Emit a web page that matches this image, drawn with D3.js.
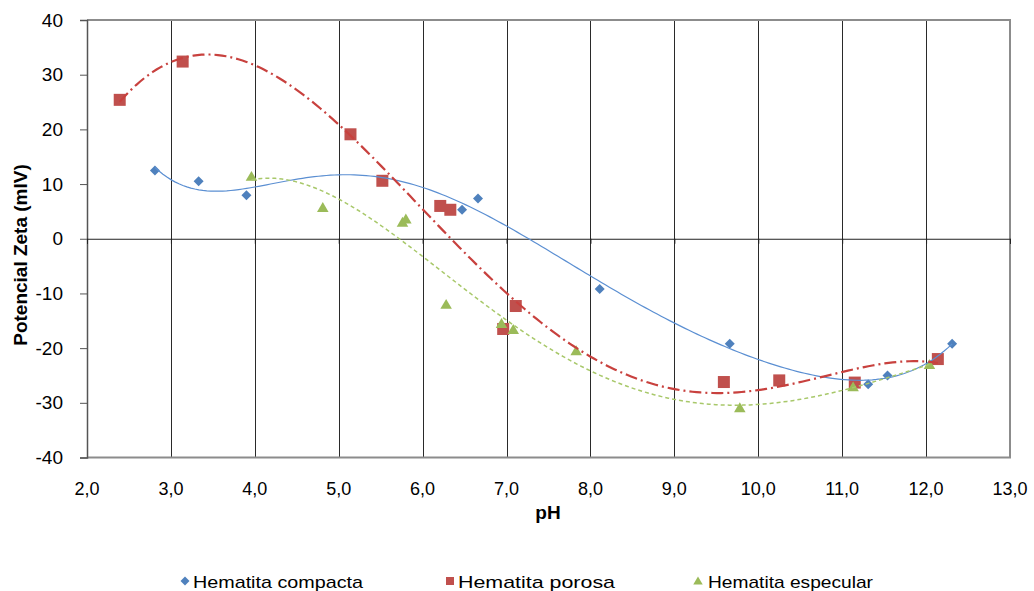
<!DOCTYPE html>
<html><head><meta charset="utf-8">
<script src="https://cdn.jsdelivr.net/npm/d3@7"></script>
<style>
body{margin:0;background:#fff;}
svg{font-family:"Liberation Sans",Arial,sans-serif;}
</style></head>
<body><svg id="c" width="1034" height="591"></svg>
<script>
// ---- data ----
const compactaX = [2.81, 3.33, 3.90, 6.47, 6.66, 8.11, 9.66, 11.31, 11.54, 12.31];
const compactaY = [12.5, 10.5, 7.95, 5.3, 7.35, -9.2, -19.2, -26.6, -25.0, -19.2];
const porosaX = [2.39, 3.14, 5.14, 5.52, 6.21, 6.33, 6.96, 7.11, 9.59, 10.25, 11.15, 12.14];
const porosaY = [25.4, 32.4, 19.1, 10.6, 6.0, 5.3, -16.5, -12.3, -26.2, -25.9, -26.3, -22.0];
const especularX = [3.96, 4.81, 5.76, 5.80, 6.28, 6.94, 7.08, 7.83, 9.78, 11.13, 12.04];
const especularY = [11.4, 5.7, 3.0, 3.6, -12.0, -15.5, -16.6, -20.5, -30.9, -27.1, -23.0];
const seriesNames = ["Hematita compacta", "Hematita porosa", "Hematita especular"];
const xTickValues = [2,3,4,5,6,7,8,9,10,11,12,13];
const xTickLabels = ["2,0","3,0","4,0","5,0","6,0","7,0","8,0","9,0","10,0","11,0","12,0","13,0"];
const yTickValues = [-40,-30,-20,-10,0,10,20,30,40];
const yTickLabels = ["-40","-30","-20","-10","0","10","20","30","40"];
const trendOrders = [6, 5, 5]; // polynomial trendline orders

// ---- layout ----
const svg = d3.select("#c");
const L = 87, R = 1010, T = 20, B = 457.5;
const x = d3.scaleLinear().domain([2,13]).range([L,R]);
const y = d3.scaleLinear().domain([-40,40]).range([B,T]);

// vertical gridlines
svg.append("g").selectAll("line").data(xTickValues.filter(v=>v>2 && v<13)).join("line")
  .attr("x1",d=>Math.round(x(d))+0.5).attr("x2",d=>Math.round(x(d))+0.5)
  .attr("y1",T).attr("y2",B).attr("stroke","#2a2a2a").attr("stroke-width",1);

// border (top/right/bottom)
svg.append("path").attr("d",`M${L},${T}H${R}V${B}H${L}`).attr("fill","none")
  .attr("stroke","#8c8c8c").attr("stroke-width",2);

// y axis
const yAxis = svg.append("g").attr("transform",`translate(${L},0)`)
  .call(d3.axisLeft(y).tickValues(yTickValues).tickSize(7).tickPadding(17)
    .tickFormat((d,i)=>yTickLabels[i]));
yAxis.select(".domain").attr("stroke","#555").attr("stroke-width",1.5);
yAxis.selectAll(".tick line").attr("stroke","#555");
yAxis.selectAll("text").attr("font-size","19px").attr("fill","#000")
  .attr("font-family","Liberation Sans, Arial, sans-serif");

// x axis at y=0
const xAxis = svg.append("g").attr("transform",`translate(0,${y(0)})`)
  .call(d3.axisBottom(x).tickValues(xTickValues).tickSize(5).tickFormat(""));
xAxis.select(".domain").attr("stroke","#222").attr("stroke-width",1);
xAxis.selectAll(".tick line").attr("stroke","#222");

// x tick labels at bottom
svg.append("g").selectAll("text").data(xTickValues).join("text")
  .attr("x",d=>x(d)).attr("y",495).attr("text-anchor","middle")
  .attr("font-size","18px").attr("fill","#000")
  .text((d,i)=>xTickLabels[i]);

// axis titles
svg.append("text").attr("x",548).attr("y",519).attr("text-anchor","middle")
  .attr("font-size","19px").attr("font-weight","bold").text("pH");
svg.append("text").attr("transform","translate(27,255) rotate(-90)").attr("text-anchor","middle")
  .attr("font-size","19px").attr("font-weight","bold").text("Potencial Zeta (mlV)");

// polynomial least squares (trendline)
function polyfit(xs, ys, deg){
  const m = d3.mean(xs);
  const n = deg+1;
  const A = Array.from({length:n},()=>new Array(n).fill(0));
  const b = new Array(n).fill(0);
  xs.forEach((xv,k)=>{
    const t = xv-m;
    for(let i=0;i<n;i++){
      b[i]+=ys[k]*Math.pow(t,i);
      for(let j=0;j<n;j++) A[i][j]+=Math.pow(t,i+j);
    }
  });
  for(let i=0;i<n;i++){
    let p=i; for(let r=i+1;r<n;r++) if(Math.abs(A[r][i])>Math.abs(A[p][i])) p=r;
    [A[i],A[p]]=[A[p],A[i]]; [b[i],b[p]]=[b[p],b[i]];
    for(let r=i+1;r<n;r++){const f=A[r][i]/A[i][i]; for(let c=i;c<n;c++) A[r][c]-=f*A[i][c]; b[r]-=f*b[i];}
  }
  const c=new Array(n).fill(0);
  for(let i=n-1;i>=0;i--){let s=b[i]; for(let j=i+1;j<n;j++) s-=A[i][j]*c[j]; c[i]=s/A[i][i];}
  return xv=>{const t=xv-m; let s=0; for(let i=n-1;i>=0;i--) s=s*t+c[i]; return s;};
}

const series = [
  {xs:compactaX, ys:compactaY, color:"#4f81bd", line:"#5b8fd2", lw:1.2, dash:null},
  {xs:porosaX, ys:porosaY, color:"#c0504d", line:"#c8413e", lw:2.2, dash:"12,4,2,4"},
  {xs:especularX, ys:especularY, color:"#9bbb59", line:"#a8c86a", lw:1.5, dash:"4,3"}
];

const line = d3.line().x(d=>x(d[0])).y(d=>y(d[1]));
series.forEach((s,i)=>{
  const f = polyfit(s.xs, s.ys, trendOrders[i]);
  const x0=d3.min(s.xs), x1=d3.max(s.xs);
  s.pts = d3.range(0,201).map(k=>{const xv=x0+(x1-x0)*k/200; return [xv,f(xv)];});
});

// markers
function marker(g, type, cx, cy, sz, color){
  if(type===0){
    g.append("path").attr("d",`M${cx},${cy-sz}L${cx+sz},${cy}L${cx},${cy+sz}L${cx-sz},${cy}Z`).attr("fill",color);
  } else if(type===1){
    g.append("rect").attr("x",cx-sz).attr("y",cy-sz).attr("width",2*sz).attr("height",2*sz).attr("fill",color);
  } else {
    g.append("path").attr("d",`M${cx},${cy-sz}L${cx+sz*1.05},${cy+sz*0.8}L${cx-sz*1.05},${cy+sz*0.8}Z`).attr("fill",color);
  }
}
const sizes=[5,6,5.5];
const mg = svg.append("g");
series.forEach((s,i)=>{
  s.xs.forEach((xv,k)=>marker(mg,i,x(xv),y(s.ys[k]),sizes[i],s.color));
});
// trendlines on top
series.forEach((s,i)=>{
  const p = svg.append("path").attr("d",line(s.pts)).attr("fill","none")
    .attr("stroke",s.line).attr("stroke-width",s.lw);
  if(s.dash) p.attr("stroke-dasharray",s.dash);
});

// legend
const lg = svg.append("g");
const legX=[185,450,698];
const legTextX=[193,458,708];
const legTextW=[170,157,165];
const legSz=[4.5,4,4.5];
seriesNames.forEach((nm,i)=>{
  marker(lg,i,legX[i],581,legSz[i],series[i].color);
  lg.append("text").attr("x",legTextX[i]).attr("y",587.5).attr("font-size","17px").attr("fill","#000")
    .attr("textLength",legTextW[i]).attr("lengthAdjust","spacingAndGlyphs").text(nm);
});
</script></body></html>
